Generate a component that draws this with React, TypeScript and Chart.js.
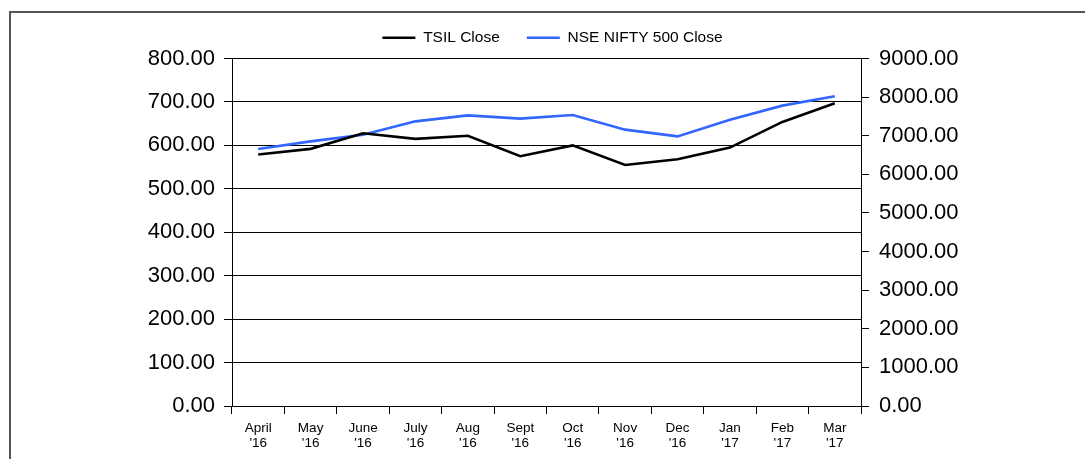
import React, { useEffect, useRef } from "react";
import { Chart, registerables } from "chart.js";

Chart.register(...registerables);

const months = ["April", "May", "June", "July", "Aug", "Sept", "Oct", "Nov", "Dec", "Jan", "Feb", "Mar"];
const years = ["'16", "'16", "'16", "'16", "'16", "'16", "'16", "'16", "'16", "'17", "'17", "'17"];
const tsilClose = [579, 592, 628, 615, 622, 575, 600, 555, 568, 595, 654, 697];
const niftyClose = [6656, 6853, 7027, 7372, 7527, 7442, 7537, 7157, 6983, 7416, 7779, 8020];
const seriesNames = ["TSIL Close", "NSE NIFTY 500 Close"];
const seriesColors = ["#000000", "#3366ff"];
const leftRange = [0, 800, 100];
const rightRange = [0, 9000, 1000];

const FONT = "'Liberation Sans', Arial, Helvetica, sans-serif";

export default function App() {
  const ref = useRef<HTMLCanvasElement | null>(null);

  useEffect(() => {
    if (!ref.current) return;
    const legendSpacer = {
      id: "legendSpacer",
      afterInit(chart: any) {
        const legend = chart.legend;
        if (!legend) return;
        const orig = legend.fit;
        legend.fit = function () {
          orig.call(this);
          this.height += 3;
        };
      },
    };
    const chart = new Chart(ref.current, {
      type: "line",
      data: {
        labels: months.map((m, i) => [m, years[i]]),
        datasets: [
          {
            label: seriesNames[0],
            data: tsilClose,
            borderColor: seriesColors[0],
            backgroundColor: seriesColors[0],
            borderWidth: 2.6,
            pointRadius: 0,
            tension: 0,
            yAxisID: "yLeft",
          },
          {
            label: seriesNames[1],
            data: niftyClose,
            borderColor: seriesColors[1],
            backgroundColor: seriesColors[1],
            borderWidth: 2.6,
            pointRadius: 0,
            tension: 0,
            yAxisID: "yRight",
          },
        ],
      },
      options: {
        responsive: false,
        animation: false,
        layout: { padding: { left: 20, right: 0, top: 3, bottom: 0 } },
        plugins: {
          tooltip: { enabled: false },
          legend: {
            position: "top",
            labels: {
              usePointStyle: true,
              pointStyle: "line",
              pointStyleWidth: 33,
              padding: 27,
              color: "#000",
              font: { family: FONT, size: 15.5 },
            },
          },
        },
        scales: {
          x: {
            offset: true,
            grid: {
              offset: true,
              drawOnChartArea: false,
              drawTicks: true,
              tickLength: 8,
              color: "#000",
              lineWidth: 1,
            },
            border: { color: "#000", width: 1 },
            ticks: {
              color: "#000",
              padding: 7,
              maxRotation: 0,
              autoSkip: false,
              font: { family: FONT, size: 13.5, lineHeight: 1.1 },
            },
            afterFit(scale: any) {
              scale.height = 53;
            },
          },
          yLeft: {
            type: "linear",
            position: "left",
            min: leftRange[0],
            max: leftRange[1],
            grid: {
              drawOnChartArea: true,
              drawTicks: true,
              tickLength: 8,
              color: "#000",
              lineWidth: 1,
            },
            border: { color: "#000", width: 1 },
            ticks: {
              stepSize: leftRange[2],
              color: "#000",
              padding: 9,
              font: { family: FONT, size: 22 },
              callback: (v: any) => Number(v).toFixed(2),
            },
            afterFit(scale: any) {
              scale.width = 212;
            },
          },
          yRight: {
            type: "linear",
            position: "right",
            min: rightRange[0],
            max: rightRange[1],
            grid: {
              drawOnChartArea: false,
              drawTicks: true,
              tickLength: 8,
              color: "#000",
              lineWidth: 1,
            },
            border: { color: "#000", width: 1 },
            ticks: {
              stepSize: rightRange[2],
              color: "#000",
              padding: 10,
              font: { family: FONT, size: 22 },
              callback: (v: any) => Number(v).toFixed(2),
            },
            afterFit(scale: any) {
              scale.width = 224;
            },
          },
        },
      },
      plugins: [legendSpacer],
    } as any);
    return () => chart.destroy();
  }, []);

  return (
    <div
      style={{
        position: "fixed",
        left: 0,
        top: 0,
        width: 1085,
        height: 459,
        overflow: "hidden",
        background: "#fff",
      }}
    >
      <div
        style={{
          position: "absolute",
          left: 9,
          top: 11,
          width: 1200,
          height: 600,
          border: "2px solid #555",
          boxSizing: "border-box",
        }}
      />
      <canvas
        ref={ref}
        width={1085}
        height={459}
        style={{ position: "absolute", left: 0, top: 0, width: 1085, height: 459 }}
      />
    </div>
  );
}
